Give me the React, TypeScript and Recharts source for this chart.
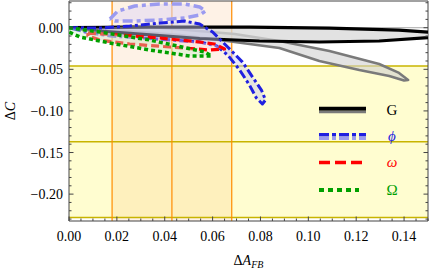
import React from 'react';
import {
  ScatterChart,
  Scatter,
  XAxis,
  YAxis,
  ReferenceArea,
  ReferenceLine,
  Legend,
} from 'recharts';

const FONT = '"Liberation Serif", "DejaVu Serif", serif';
const FRAME = '#444';

// ticks (minor + major), majors get labels
const xTicks = [
  0, 0.005, 0.01, 0.015, 0.02, 0.025, 0.03, 0.035, 0.04, 0.045, 0.05, 0.055, 0.06,
  0.065, 0.07, 0.075, 0.08, 0.085, 0.09, 0.095, 0.1, 0.105, 0.11, 0.115, 0.12,
  0.125, 0.13, 0.135, 0.14, 0.145, 0.15,
];
const yTicks = [
  0.03, 0.02, 0.01, 0, -0.01, -0.02, -0.03, -0.04, -0.05, -0.06, -0.07, -0.08,
  -0.09, -0.1, -0.11, -0.12, -0.13, -0.14, -0.15, -0.16, -0.17, -0.18, -0.19,
  -0.2, -0.21, -0.22, -0.23,
];

const xDomain = [0, 0.15];
const yDomain = [-0.2323, 0.0321];

// shaded bands and cut lines
const yellowBand = [-0.228, -0.046];
const orangeBand = [0.018, 0.068];
const orangeLines = [0.018, 0.043, 0.068];
const oliveLines = [-0.046, -0.137, -0.228];

// contour loops, [ΔA_FB, ΔC]
const gOuter: [number, number][] = [
  [0, 0], [0.0338, 0.0008], [0.0754, 0.0008], [0.1088, -0.0004], [0.1379, -0.0028],
  [0.15, -0.0052], [0.1588, -0.0082], [0.1588, -0.0094], [0.15, -0.0118],
  [0.1296, -0.016], [0.1046, -0.0172], [0.0796, -0.016], [0.0546, -0.013],
  [0.0296, -0.0076], [0.0129, -0.004], [0, 0],
];
const gInner: [number, number][] = [
  [0, 0], [0.0317, 0.0015], [0.0692, -0.0076], [0.0879, -0.016], [0.1088, -0.028],
  [0.1296, -0.0436], [0.1379, -0.0544], [0.1417, -0.0629], [0.14, -0.0635],
  [0.1338, -0.058], [0.1213, -0.0508], [0.1046, -0.04], [0.0879, -0.0244],
  [0.0692, -0.0172], [0.0463, -0.0088], [0.0213, -0.0034], [0, -0.001], [0, 0],
];
const phiUpper: [number, number][] = [
  [0.0171, 0.0105], [0.0204, 0.0201], [0.0275, 0.0261], [0.0379, 0.0285],
  [0.0483, 0.0285], [0.0546, 0.0249], [0.0571, 0.0201], [0.0546, 0.0153],
  [0.0483, 0.0117], [0.0379, 0.0093], [0.0275, 0.0081], [0.0192, 0.0081],
  [0.0171, 0.0105],
];
const phiLower: [number, number][] = [
  [0, 0], [0.0129, -0.0004], [0.0254, 0.002], [0.0379, 0.0056], [0.0483, 0.008],
  [0.0546, 0.0044], [0.06, -0.0052], [0.0663, -0.0232], [0.0725, -0.0413],
  [0.0767, -0.0593], [0.0804, -0.0749], [0.0821, -0.0869], [0.0808, -0.0917],
  [0.0783, -0.0845], [0.0754, -0.0689], [0.0713, -0.0508], [0.0663, -0.0328],
  [0.0617, -0.022], [0.0546, -0.0172], [0.0421, -0.0148], [0.0296, -0.0124],
  [0.0171, -0.01], [0.0067, -0.0052], [0, 0],
];
const omegaLoop: [number, number][] = [
  [0.0079, -0.0064], [0.0213, -0.0088], [0.0379, -0.0124], [0.0546, -0.0172],
  [0.0608, -0.0196], [0.065, -0.0256], [0.0588, -0.0268], [0.0421, -0.0232],
  [0.0254, -0.0196], [0.0129, -0.0148], [0.0079, -0.01], [0.0079, -0.0064],
];
const bigOmegaLoop: [number, number][] = [
  [0, 0], [0.0129, -0.0052], [0.0338, -0.0148], [0.0567, -0.0292], [0.0596, -0.034],
  [0.0504, -0.034], [0.0338, -0.0268], [0.0171, -0.0184], [0.0046, -0.0112],
  [0, -0.0052], [0, 0],
];

const legendNames = ['G', '\u03D5', 'ω', 'Ω'];

const toPoints = (loop: [number, number][]) => loop.map(([x, y]) => ({ x, y }));

const loops = [
  { key: 'gInner', data: gInner, line: { stroke: '#7a7a7a', strokeWidth: 2.5, fill: '#d0d0d0', fillOpacity: 0.6 } },
  { key: 'gOuter', data: gOuter, line: { stroke: '#000', strokeWidth: 3.2, fill: '#d8d8d8', fillOpacity: 0.75 } },
  { key: 'phiUpper', data: phiUpper, line: { stroke: '#9b9bf0', strokeWidth: 3.5, strokeDasharray: '10 4 4 4', fill: '#e0d8f4', fillOpacity: 0.55 } },
  { key: 'phiLower', data: phiLower, line: { stroke: '#2020e0', strokeWidth: 3, strokeDasharray: '9 3 3 3', fill: '#c8c8f0', fillOpacity: 0.45 } },
  { key: 'omega', data: omegaLoop, line: { stroke: '#ff0000', strokeWidth: 3.2, strokeDasharray: '8 4', fill: '#ffd0d0', fillOpacity: 0.4 } },
  { key: 'bigOmega', data: bigOmegaLoop, line: { stroke: '#00a000', strokeWidth: 3.5, strokeDasharray: '4 3', fill: '#c8f0c8', fillOpacity: 0.4 } },
];

const isMajor = (v: number, step: number) => Math.abs(v / step - Math.round(v / step)) < 1e-6;
const fmt = (v: number) => (v < 0 ? '\u2212' + Math.abs(v).toFixed(2) : v.toFixed(2));

const BottomTick = ({ x, y, payload }: any) => {
  const major = isMajor(payload.value, 0.02);
  return (
    <g>
      <line x1={x} x2={x} y1={y} y2={y - (major ? 4.5 : 2.5)} stroke={FRAME} />
      {major && (
        <text x={x} y={y + 20} textAnchor="middle" fontSize={14} fontFamily={FONT} fill="#000">
          {fmt(payload.value)}
        </text>
      )}
    </g>
  );
};

const TopTick = ({ x, y, payload }: any) => {
  const major = isMajor(payload.value, 0.02);
  return <line x1={x} x2={x} y1={y} y2={y + (major ? 4.5 : 2.5)} stroke={FRAME} />;
};

const LeftTick = ({ x, y, payload }: any) => {
  const major = isMajor(payload.value, 0.05);
  return (
    <g>
      <line x1={x} x2={x + (major ? 4.5 : 2.5)} y1={y} y2={y} stroke={FRAME} />
      {major && (
        <text x={x - 6} y={y + 5} textAnchor="end" fontSize={14} fontFamily={FONT} fill="#000">
          {fmt(payload.value)}
        </text>
      )}
    </g>
  );
};

const RightTick = ({ x, y, payload }: any) => {
  const major = isMajor(payload.value, 0.05);
  return <line x1={x} x2={x - (major ? 4.5 : 2.5)} y1={y} y2={y} stroke={FRAME} />;
};

const XLabel = ({ viewBox }: any) => (
  <text x={viewBox.x + viewBox.width / 2} y={viewBox.y + 44} textAnchor="middle" fontSize={14} fontFamily={FONT} fill="#000">
    Δ<tspan fontStyle="italic">A</tspan>
    <tspan fontStyle="italic" fontSize={10} dy={3}>FB</tspan>
  </text>
);

const YLabel = ({ viewBox }: any) => (
  <text
    transform={`translate(15, ${viewBox.y + viewBox.height / 2}) rotate(-90)`}
    textAnchor="middle"
    fontSize={14}
    fontFamily={FONT}
    fill="#000"
  >
    Δ<tspan fontStyle="italic">C</tspan>
  </text>
);

const LegendBox = () => (
  <svg width={110} height={104}>
    <line x1={9} x2={56} y1={11.8} y2={11.8} stroke="#000" strokeWidth={4} />
    <line x1={9} x2={56} y1={15} y2={15} stroke="#7a7a7a" strokeWidth={2.5} />
    <text x={82} y={18} textAnchor="middle" fontSize={15} fontFamily={FONT} fill="#000">{legendNames[0]}</text>

    <line x1={9} x2={56} y1={37.8} y2={37.8} stroke="#2020e0" strokeWidth={3.5} strokeDasharray="10 3 4 3" />
    <line x1={9} x2={56} y1={41.3} y2={41.3} stroke="#9b9bf0" strokeWidth={3.5} strokeDasharray="10 3 4 3" />
    <text x={82} y={44} textAnchor="middle" fontSize={15} fontStyle="italic" fontFamily={FONT} fill="#2020e0">{legendNames[1]}</text>

    <line x1={9} x2={56} y1={65.5} y2={65.5} stroke="#ff0000" strokeWidth={3.5} strokeDasharray="11 5" />
    <text x={82} y={70} textAnchor="middle" fontSize={15} fontStyle="italic" fontFamily={FONT} fill="#ff0000">{legendNames[2]}</text>

    <line x1={9} x2={49} y1={93} y2={93} stroke="#00a000" strokeWidth={4} strokeDasharray="5 4" />
    <text x={82} y={98} textAnchor="middle" fontSize={15} fontFamily={FONT} fill="#00a000">{legendNames[3]}</text>
  </svg>
);

export default function App() {
  return (
    <div style={{ position: 'absolute', left: 0, top: 0, background: '#fff' }}>
      <ScatterChart width={429} height={272} margin={{ top: 0, right: 0, bottom: 0, left: 0 }}>
        <XAxis
          xAxisId={0}
          type="number"
          dataKey="x"
          domain={xDomain}
          allowDataOverflow
          ticks={xTicks}
          interval={0}
          tick={<BottomTick />}
          tickLine={false}
          tickSize={0}
          tickMargin={0}
          height={51}
          axisLine={{ stroke: FRAME }}
          label={{ content: <XLabel /> }}
        />
        <XAxis
          xAxisId="top"
          orientation="top"
          type="number"
          domain={xDomain}
          allowDataOverflow
          ticks={xTicks}
          interval={0}
          tick={<TopTick />}
          tickLine={false}
          tickSize={0}
          tickMargin={0}
          height={1}
          axisLine={{ stroke: FRAME }}
        />
        <YAxis
          yAxisId={0}
          type="number"
          dataKey="y"
          domain={yDomain}
          allowDataOverflow
          ticks={yTicks}
          interval={0}
          tick={<LeftTick />}
          tickLine={false}
          tickSize={0}
          tickMargin={0}
          width={69}
          axisLine={{ stroke: FRAME }}
          label={{ content: <YLabel /> }}
        />
        <YAxis
          yAxisId="right"
          orientation="right"
          type="number"
          domain={yDomain}
          allowDataOverflow
          ticks={yTicks}
          interval={0}
          tick={<RightTick />}
          tickLine={false}
          tickSize={0}
          tickMargin={0}
          width={1}
          axisLine={{ stroke: FRAME }}
        />

        <ReferenceArea y1={yellowBand[0]} y2={yellowBand[1]} fill="#fffdd0" fillOpacity={1} stroke="none" />
        <ReferenceArea x1={orangeBand[0]} x2={orangeBand[1]} fill="#f5a050" fillOpacity={0.14} stroke="none" />
        <ReferenceLine y={0} stroke="#aaa" strokeWidth={1} />
        {oliveLines.map((v) => (
          <ReferenceLine key={`o${v}`} y={v} stroke="#c8b400" strokeWidth={1.5} />
        ))}
        {orangeLines.map((v) => (
          <ReferenceLine key={`v${v}`} x={v} stroke="#ff8c00" strokeWidth={1.2} />
        ))}

        {loops.map((l) => (
          <Scatter
            key={l.key}
            data={toPoints(l.data)}
            fill="none"
            line={{ strokeLinejoin: 'round', ...l.line }}
            lineType="joint"
            shape={() => <g />}
            legendType="none"
            isAnimationActive={false}
          />
        ))}

        <Legend
          layout="vertical"
          align="center"
          verticalAlign="middle"
          content={<LegendBox />}
          wrapperStyle={{ position: 'absolute', left: 310, top: 97, width: 110, height: 104 }}
        />
      </ScatterChart>
    </div>
  );
}
